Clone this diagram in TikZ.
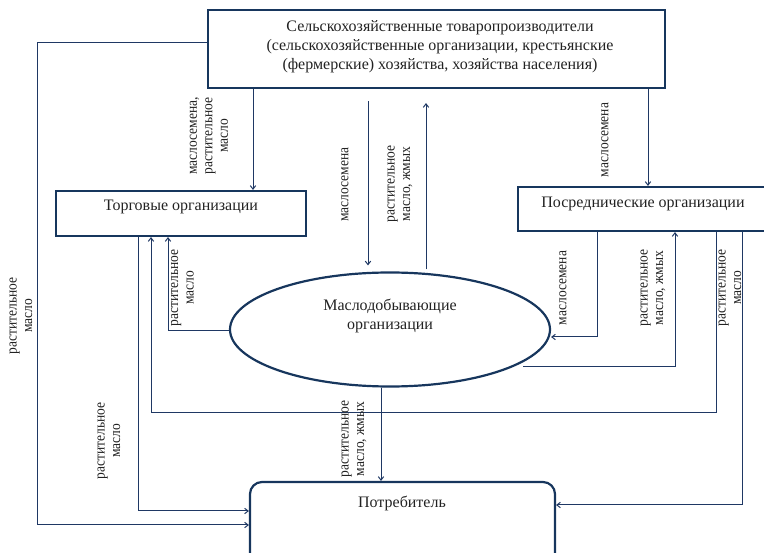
\documentclass[tikz,border=0pt]{standalone}
\usepackage{fontspec}
\setmainfont{Liberation Serif}
\newfontfamily\lblfont[FakeStretch=0.9]{Liberation Serif}
\usetikzlibrary{arrows.meta,shapes.geometric,calc}
\definecolor{navy}{HTML}{1F3864}
\definecolor{boxc}{HTML}{17365D}
\definecolor{txt}{HTML}{222222}
\begin{document}
\begin{tikzpicture}[x=1pt,y=-1pt,
  box/.style={draw=boxc, line width=2.2pt, inner sep=0pt},
  conn/.style={draw=navy, line width=1pt},
  arr/.style={conn, -{Straight Barb[length=3.5pt,width=5.5pt]}},
  maintext/.style={font=\fontsize{16}{19}\selectfont, align=center, text=txt, inner sep=0pt},
  lbl/.style={font=\lblfont\fontsize{15}{15.5}\selectfont, align=center, rotate=90, inner sep=0pt, text=txt}]
\useasboundingbox (0,0) rectangle (764,553);
\clip (0,0) rectangle (764,553);

% boxes
\node[box, minimum width=457pt, minimum height=78pt] (top) at (436.5,49) {};
\node[box, minimum width=250pt, minimum height=45pt] (torg) at (181,213.5) {};
\node[box, minimum width=248pt, minimum height=44pt] (posr) at (642,209) {};
\node[box, ellipse, minimum width=320pt, minimum height=114pt] (ell) at (390,329.5) {};
\node[box, rounded corners=12pt, minimum width=305pt, minimum height=93pt] (potr) at (402.5,528.5) {};

% box texts
\node[maintext] (toptext) at (440,47) {Сельскохозяйственные товаропроизводители\\(сельскохозяйственные организации, крестьянские\\(фермерские) хозяйства, хозяйства населения)};
\node[maintext] (torgtext) at (181,207) {Торговые организации};
\node[maintext] (posrtext) at (643,204) {Посреднические организации};
\node[maintext] (elltext) at (390,316) {Маслодобывающие\\организации};
\node[maintext] (potrtext) at (402,503) {Потребитель};

% connectors
\draw[arr] (top.west |- 0,43) -- (37,43) -- (37,525) -- (potr.west |- 0,525);
\draw[arr] (top.south -| 253,0) -- (torg.north -| 253,0);
\draw[arr] ($(top.south -| 368,0)+(0,12)$) -- ($(ell.north -| 368,0)+(0,-6)$);
\draw[arr] ($(ell.north -| 426,0)+(0,-2)$) -- ($(top.south -| 426,0)+(0,14)$);
\draw[arr] (top.south -| 648,0) -- (posr.north -| 648,0);
\draw[arr] (ell.west |- 0,331) -| (torg.south -| 168,0);
\draw[arr] (torg.south -| 138,0) |- (potr.west |- 0,511);
\draw[arr] (posr.south -| 716,0) -- (716,413) -| (torg.south -| 151,0);
\draw[arr] (posr.south -| 742,0) |- (potr.east |- 0,505);
\draw[arr] (posr.south -| 597,0) |- (ell.east |- 0,337);
\draw[arr] ($(ell.center)+(133,37.5)$) -| (posr.south -| 675,0);
\draw[arr] (ell.south -| 381,0) -- (potr.north -| 381,0);

% labels
\node[lbl] (l1) at (209,136) {маслосемена,\\растительное\\масло};
\node[lbl] (l2) at (345,184.5) {маслосемена};
\node[lbl] (l3) at (400,184) {растительное\\масло, жмых};
\node[lbl] (l4) at (605,140) {маслосемена};
\node[lbl] (l5) at (182.5,288) {растительное\\масло};
\node[lbl] (l6) at (563,288) {маслосемена};
\node[lbl] (l7) at (653,288) {растительное\\масло, жмых};
\node[lbl] (l8) at (730,288) {растительное\\масло};
\node[lbl] (l9) at (354,439) {растительное\\масло, жмых};
\node[lbl] (l10) at (109,441) {растительное\\масло};
\node[lbl] (l11) at (21,316) {растительное\\масло};
\end{tikzpicture}
\end{document}
